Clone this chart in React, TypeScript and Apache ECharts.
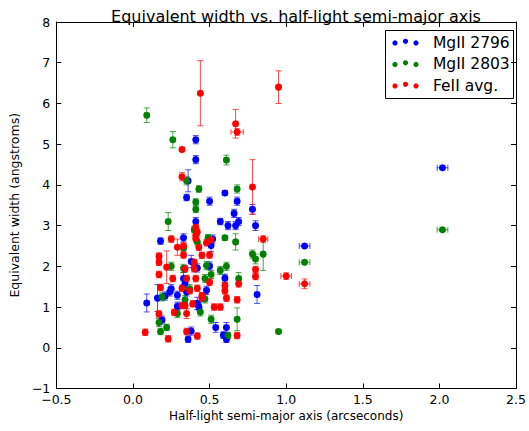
import React, { useEffect, useRef } from "react";
import * as echarts from "echarts";

const titleText = "Equivalent width vs. half-light semi-major axis";
const xAxisName = "Half-light semi-major axis (arcseconds)";
const yAxisName = "Equivalent width (angstroms)";
const seriesNames = ["MgII 2796", "MgII 2803", "FeII avg."];
const seriesColors = ["#0000ff", "#008000", "#ff0000"];

const mg2796X = [0.09, 0.16, 0.18, 0.19, 0.21, 0.24, 0.25, 0.29, 0.29, 0.33, 0.33, 0.34, 0.35, 0.35, 0.36, 0.36, 0.38, 0.38, 0.41, 0.41, 0.41, 0.42, 0.42, 0.43, 0.48, 0.5, 0.5, 0.51, 0.54, 0.57, 0.6, 0.6, 0.61, 0.59, 0.61, 0.62, 0.66, 0.67, 0.68, 0.69, 0.78, 0.8, 0.81, 1.12, 2.02, 0.52];
const mg2796Y = [1.1, 1.22, 2.62, 0.68, 1.27, 1.37, 1.45, 1.29, 1.02, 2.7, 1.7, 1.58, 1.37, 3.69, 4.1, 0.21, 0.41, 2.12, 3.1, 4.62, 5.11, 1.96, 1.09, 1.01, 1.41, 3.6, 2.01, 2.51, 0.5, 3.1, 3.8, 1.71, 0.5, 0.31, 0.21, 3.0, 3.3, 3.0, 3.6, 3.1, 3.4, 3.0, 1.31, 2.5, 4.42, 2.67];
const mg2796XErr = [0.015, 0.015, 0.015, 0.015, 0.015, 0.015, 0.015, 0.015, 0.015, 0.015, 0.015, 0.015, 0.015, 0.015, 0.015, 0.015, 0.015, 0.015, 0.015, 0.015, 0.015, 0.015, 0.015, 0.015, 0.015, 0.015, 0.015, 0.015, 0.015, 0.015, 0.015, 0.015, 0.015, 0.015, 0.015, 0.015, 0.015, 0.015, 0.015, 0.015, 0.015, 0.015, 0.015, 0.035, 0.035, 0.015];
const mg2796YErr = [0.22, 0.33, 0.08, 0.1, 0.1, 0.1, 0.1, 0.1, 0.1, 0.1, 0.15, 0.1, 0.1, 0.08, 0.27, 0.08, 0.1, 0.15, 0.1, 0.1, 0.1, 0.1, 0.15, 0.1, 0.1, 0.1, 0.1, 0.15, 0.12, 0.08, 0.05, 0.1, 0.12, 0.08, 0.08, 0.1, 0.1, 0.1, 0.1, 0.1, 0.12, 0.12, 0.22, 0.05, 0.05, 0.1];

const mg2803X = [0.09, 0.26, 0.61, 0.68, 0.43, 0.41, 0.41, 0.23, 0.4, 0.35, 0.49, 0.6, 0.67, 0.42, 0.33, 0.78, 0.8, 0.85, 0.25, 0.33, 0.48, 0.57, 0.61, 0.51, 0.47, 0.69, 0.37, 0.19, 0.47, 0.29, 0.44, 0.17, 0.18, 0.22, 0.51, 0.68, 0.62, 0.95, 1.12, 2.02, 0.34];
const mg2803Y = [5.71, 5.11, 4.61, 3.9, 3.9, 3.58, 3.4, 3.1, 2.9, 4.1, 2.7, 2.7, 2.6, 2.6, 2.45, 2.3, 2.18, 2.3, 2.0, 1.95, 2.02, 1.9, 2.0, 1.8, 1.7, 1.7, 1.45, 1.25, 1.2, 0.84, 0.88, 0.62, 0.4, 0.5, 0.7, 0.7, 0.3, 0.4, 2.1, 2.9, 1.18];
const mg2803XErr = [0.015, 0.015, 0.015, 0.015, 0.015, 0.015, 0.015, 0.015, 0.015, 0.015, 0.015, 0.015, 0.015, 0.015, 0.015, 0.015, 0.015, 0.015, 0.015, 0.015, 0.015, 0.015, 0.015, 0.015, 0.015, 0.015, 0.015, 0.015, 0.015, 0.015, 0.015, 0.015, 0.015, 0.015, 0.015, 0.015, 0.015, 0.015, 0.035, 0.035, 0.015];
const mg2803YErr = [0.18, 0.2, 0.12, 0.1, 0.08, 0.08, 0.08, 0.22, 0.08, 0.1, 0.08, 0.06, 0.2, 0.1, 0.1, 0.1, 0.12, 0.4, 0.1, 0.1, 0.1, 0.1, 0.1, 0.1, 0.1, 0.15, 0.1, 0.1, 0.1, 0.1, 0.1, 0.1, 0.08, 0.08, 0.1, 0.28, 0.08, 0.05, 0.05, 0.05, 0.1];

const fe2X = [0.44, 0.95, 0.67, 0.68, 0.32, 0.32, 0.78, 0.25, 0.33, 0.41, 0.43, 0.48, 0.45, 0.5, 0.17, 0.33, 0.22, 0.17, 0.34, 0.4, 0.26, 0.35, 0.41, 0.18, 0.37, 0.42, 0.45, 0.32, 0.34, 0.39, 0.17, 0.27, 0.08, 0.23, 0.35, 0.42, 0.68, 0.51, 0.85, 0.8, 0.8, 1.0, 1.12, 0.69, 0.5, 0.6, 0.6, 0.61, 0.68, 0.53, 0.57, 0.41, 0.42, 0.29, 0.17, 0.41, 0.32, 0.45, 0.4, 0.35];
const fe2Y = [6.25, 6.4, 5.5, 5.3, 4.87, 4.2, 3.95, 2.67, 2.5, 2.68, 2.47, 2.58, 2.27, 2.28, 2.25, 2.28, 1.98, 2.1, 1.94, 1.94, 1.7, 1.7, 1.7, 1.48, 1.4, 1.46, 1.28, 1.04, 1.04, 1.08, 0.83, 0.87, 0.38, 0.22, 0.4, 0.29, 0.3, 2.65, 2.67, 1.92, 1.75, 1.76, 1.57, 1.57, 1.61, 1.53, 1.4, 1.22, 1.18, 1.0, 1.0, 2.96, 2.84, 2.47, 1.8, 2.76, 1.46, 1.22, 2.1, 0.84];
const fe2XErr = [0.015, 0.015, 0.015, 0.04, 0.015, 0.015, 0.015, 0.015, 0.015, 0.015, 0.015, 0.015, 0.015, 0.015, 0.015, 0.015, 0.015, 0.015, 0.015, 0.015, 0.015, 0.015, 0.015, 0.015, 0.015, 0.015, 0.015, 0.015, 0.015, 0.015, 0.015, 0.015, 0.015, 0.015, 0.015, 0.015, 0.015, 0.015, 0.03, 0.015, 0.015, 0.035, 0.035, 0.015, 0.015, 0.015, 0.015, 0.015, 0.015, 0.015, 0.015, 0.015, 0.015, 0.015, 0.015, 0.015, 0.015, 0.015, 0.015, 0.015];
const fe2YErr = [0.8, 0.4, 0.35, 0.08, 0.05, 0.1, 0.67, 0.08, 0.08, 0.08, 0.08, 0.08, 0.08, 0.08, 0.08, 0.08, 0.4, 0.08, 0.08, 0.08, 0.08, 0.08, 0.08, 0.08, 0.08, 0.08, 0.08, 0.08, 0.08, 0.08, 0.08, 0.08, 0.08, 0.08, 0.08, 0.08, 0.08, 0.08, 0.08, 0.08, 0.08, 0.08, 0.12, 0.08, 0.08, 0.08, 0.08, 0.08, 0.08, 0.08, 0.08, 0.08, 0.08, 0.2, 0.08, 0.08, 0.08, 0.08, 0.08, 0.12];

const xTickMin = -0.5;
const xTickMax = 2.5;
const xTickStep = 0.5;
const yTickMin = -1;
const yTickMax = 8;
const yTickStep = 1;

const FONT = "DejaVu Sans, Liberation Sans, sans-serif";

function buildRows(xs: number[], ys: number[], xe: number[], ye: number[]) {
  return xs.map((x, i) => [x, ys[i], xe[i], ye[i]]);
}

function errorRenderer(color: string) {
  return (params: any, api: any) => {
    const x = api.value(0);
    const y = api.value(1);
    const xe = api.value(2);
    const ye = api.value(3);
    const cap = 3;
    const style = { stroke: color, lineWidth: 1, opacity: 0.7 };
    const children: any[] = [];
    if (ye > 0) {
      const t = api.coord([x, y + ye]);
      const b = api.coord([x, y - ye]);
      children.push({ type: "line", shape: { x1: t[0], y1: t[1], x2: b[0], y2: b[1] }, style });
      children.push({ type: "line", shape: { x1: t[0] - cap, y1: t[1], x2: t[0] + cap, y2: t[1] }, style });
      children.push({ type: "line", shape: { x1: b[0] - cap, y1: b[1], x2: b[0] + cap, y2: b[1] }, style });
    }
    if (xe > 0) {
      const l = api.coord([x - xe, y]);
      const r = api.coord([x + xe, y]);
      children.push({ type: "line", shape: { x1: l[0], y1: l[1], x2: r[0], y2: r[1] }, style });
      children.push({ type: "line", shape: { x1: l[0], y1: l[1] - cap, x2: l[0], y2: l[1] + cap }, style });
      children.push({ type: "line", shape: { x1: r[0], y1: r[1] - cap, x2: r[0], y2: r[1] + cap }, style });
    }
    return { type: "group", children };
  };
}

const fmt = (v: number, digits: number) => v.toFixed(digits).replace("-", "\u2212");

export default function App() {
  const ref = useRef<HTMLDivElement>(null);

  useEffect(() => {
    if (!ref.current) return;
    const chart = echarts.init(ref.current, undefined, { renderer: "svg" });
    const groups = [
      buildRows(mg2796X, mg2796Y, mg2796XErr, mg2796YErr),
      buildRows(mg2803X, mg2803Y, mg2803XErr, mg2803YErr),
      buildRows(fe2X, fe2Y, fe2XErr, fe2YErr),
    ];
    const series: any[] = [];
    groups.forEach((rows, i) => {
      series.push({
        type: "custom",
        name: seriesNames[i] + " err",
        renderItem: errorRenderer(seriesColors[i]),
        data: rows,
        encode: { x: 0, y: 1 },
        z: 2,
        silent: true,
      });
      series.push({
        type: "scatter",
        name: seriesNames[i],
        data: rows.map((r) => [r[0], r[1]]),
        symbol: "circle",
        symbolSize: 7,
        itemStyle: { color: seriesColors[i], opacity: 1 },
        z: 2,
      });
    });

    const axisCommon = {
      type: "value",
      splitLine: { show: false },
      axisLine: { show: true, onZero: false, lineStyle: { color: "#000", width: 1 } },
      axisTick: { show: true, inside: true, length: 5, lineStyle: { color: "#000" } },
    };

    const legendRows = [42.5, 64, 85.5];
    const legendChildren: any[] = [
      { type: "rect", shape: { x: 385.5, y: 30.5, width: 128, height: 68 }, style: { fill: "#fff", stroke: "#000", lineWidth: 1 } },
    ];
    legendRows.forEach((ry, i) => {
      [395, 405.5, 416].forEach((cx, k) => {
        legendChildren.push({
          type: "circle",
          shape: { cx, cy: k === 1 ? ry - 1.2 : ry + 0.4, r: 2.6 },
          style: { fill: seriesColors[i] },
        });
      });
      legendChildren.push({
        type: "text",
        style: { text: seriesNames[i], x: 433, y: ry, fill: "#000", fontSize: 15.5, fontFamily: FONT, verticalAlign: "middle" },
      });
    });

    chart.setOption({
      animation: false,
      backgroundColor: "#fff",
      title: {
        text: titleText,
        left: 291,
        textAlign: "center",
        top: 3,
        textStyle: { fontSize: 16, fontWeight: "normal", color: "#000", fontFamily: FONT },
      },
      grid: { left: 48, right: 10, top: 22, bottom: 42.5, containLabel: false },
      xAxis: [
        {
          ...axisCommon,
          position: "bottom",
          min: xTickMin,
          max: xTickMax,
          interval: xTickStep,
          name: xAxisName,
          nameLocation: "middle",
          nameGap: 21,
          nameTextStyle: { fontSize: 12, color: "#000", fontFamily: FONT },
          axisLabel: { color: "#000", fontSize: 12.5, fontFamily: FONT, margin: 4, formatter: (v: number) => fmt(v, 1) },
        },
        {
          ...axisCommon,
          position: "top",
          min: xTickMin,
          max: xTickMax,
          interval: xTickStep,
          axisLabel: { show: false },
        },
      ],
      yAxis: [
        {
          ...axisCommon,
          position: "left",
          min: yTickMin,
          max: yTickMax,
          interval: yTickStep,
          name: yAxisName,
          nameLocation: "middle",
          nameGap: 30,
          nameRotate: 90,
          nameTextStyle: { fontSize: 12.5, color: "#000", fontFamily: FONT },
          axisLabel: { color: "#000", fontSize: 12.5, fontFamily: FONT, margin: 6, formatter: (v: number) => fmt(v, 0) },
        },
        {
          ...axisCommon,
          position: "right",
          min: yTickMin,
          max: yTickMax,
          interval: yTickStep,
          axisLabel: { show: false },
        },
      ],
      graphic: [{ type: "group", children: legendChildren, z: 100 }],
      series,
    });
    return () => chart.dispose();
  }, []);

  return <div ref={ref} style={{ position: "fixed", left: 0, top: 0, width: 529, height: 431 }} />;
}
